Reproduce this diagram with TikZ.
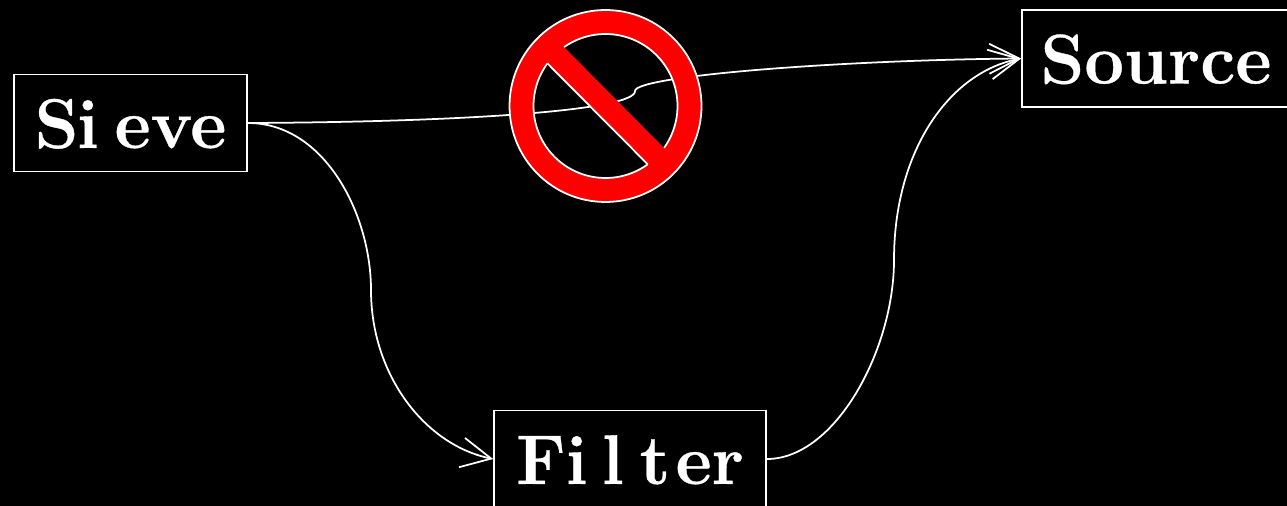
\documentclass[tikz,border=0pt]{standalone}
\usepackage{fontspec}
\usepackage{tikz}
\usetikzlibrary{arrows.meta}

\newfontfamily\boxfont[BoldFeatures={FakeBold=0.5}]{Latin Modern Roman}

\tikzset{
  box/.style={draw=white,line width=1pt,text=white,inner sep=0pt,
    text height=28.4pt,text depth=0pt,minimum height=1.94cm,
    font=\fontsize{40}{40}\boxfont\bfseries},
  wire/.style={draw=white,line width=1pt},
  >={Straight Barb[length=17pt,width=17pt,line width=1pt]}
}

\begin{document}
\begin{tikzpicture}[x=0.02cm,y=-0.02cm]
\useasboundingbox (0,0) rectangle (1287,506);
\fill[black] (0,0) rectangle (1287,506);
\clip (0,0) rectangle (1287,506);

\node[box,minimum width=4.66cm] (sieve) at (130.5,123) {S\kern-1pt i\kern9pt eve};
\node[box,minimum width=5.36cm] (source) at (1156,58.5) {Source};
\node[box,minimum width=5.44cm] (filter) at (630,459) {Fi\kern8pt l\kern9pt t\kern3pt er};

\coordinate (kink) at (635,91);
\coordinate (low) at (371,290);
\coordinate (high) at (894,260);

\draw[wire] (sieve.east) .. controls (325,123) and (371,215) .. (low);
\draw[wire,->] (low) .. controls (371,375) and (425,445) .. (filter.west);
\draw[wire] (filter.east) .. controls (835,459) and (894,350) .. (high);
\draw[wire,->] (high) .. controls (894,150) and (950,72) .. (source.west);
\draw[wire] (sieve.east) .. controls (470,122) and (636,110) .. (kink);
\draw[wire,->] (kink) .. controls (635,76) and (840,60) .. (source.west);

\fill[red,draw=white,line width=1pt,even odd rule] (605.5,106) circle (1.92cm) (605.5,106) circle (1.44cm);
\fill[red] (540,56) -- (557,40) -- (671,155) -- (655,172) -- cycle;
\draw[white,line width=1pt] (547.3,63.3) -- (647.7,164.3);
\end{tikzpicture}
\end{document}
